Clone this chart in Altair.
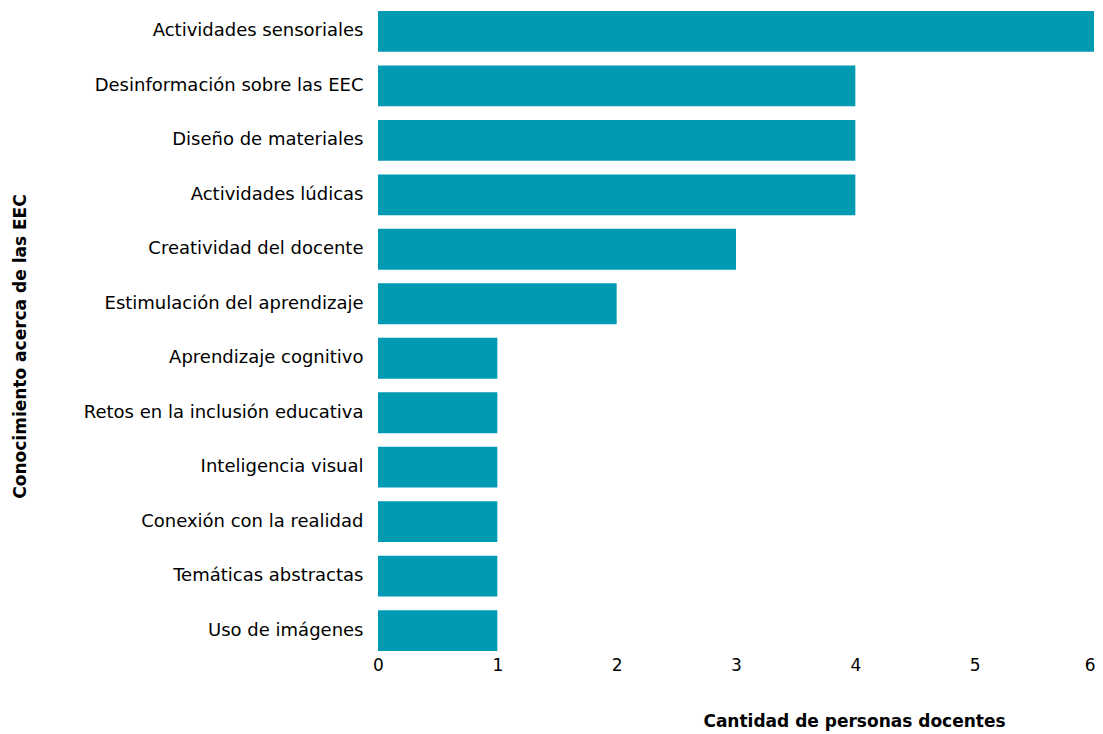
import altair as alt
import pandas as pd

categorias = [
    "Actividades sensoriales",
    "Desinformación sobre las EEC",
    "Diseño de materiales",
    "Actividades lúdicas",
    "Creatividad del docente",
    "Estimulación del aprendizaje",
    "Aprendizaje cognitivo",
    "Retos en la inclusión educativa",
    "Inteligencia visual",
    "Conexión con la realidad",
    "Temáticas abstractas",
    "Uso de imágenes",
]
valores = [6, 4, 4, 4, 3, 2, 1, 1, 1, 1, 1, 1]
ticks_x = [0, 1, 2, 3, 4, 5, 6]

df = pd.DataFrame({"categoria": categorias, "valor": valores})

FONT = "DejaVu Sans"

chart = (
    alt.Chart(df)
    .mark_bar(color="#009AB3")
    .encode(
        x=alt.X(
            "valor:Q",
            scale=alt.Scale(domain=[0, 6], nice=False),
            axis=alt.Axis(
                title="Cantidad de personas docentes",
                values=ticks_x,
                format="d",
                grid=False,
                domain=False,
                ticks=False,
                labelFlush=False,
                labelAlign=alt.condition("datum.value == 6", alt.value("right"), alt.value("center")),
                labelOffset=alt.condition("datum.value == 6", alt.value(1), alt.value(0)),
                labelFontSize=17,
                labelColor="#000000",
                labelFont=FONT,
                labelPadding=6,
                titleFont=FONT,
                titleFontSize=17,
                titleFontWeight="bold",
                titleColor="#000000",
                titleX=476,
                titleY=70,
                titleBaseline="middle",
            ),
        ),
        y=alt.Y(
            "categoria:N",
            sort=categorias,
            scale=alt.Scale(paddingInner=0.25, paddingOuter=0),
            axis=alt.Axis(
                title="Conocimiento acerca de las EEC",
                grid=False,
                domain=False,
                ticks=False,
                labelFontSize=18,
                labelColor="#000000",
                labelFont=FONT,
                labelPadding=15,
                labelLimit=400,
                titleFont=FONT,
                titleFontSize=17,
                titleFontWeight="bold",
                titleColor="#000000",
                titleAngle=270,
                titleX=-358,
                titleY=335,
                titleBaseline="middle",
                titleAlign="center",
            ),
        ),
    )
    .properties(
        width=716,
        height=640,
        autosize=alt.AutoSizeParams(type="none"),
        padding={"left": 370, "top": 3, "right": 1, "bottom": 80},
    )
    .configure_view(stroke=None)
)

chart.save("out.html", embed_options={"renderer": "svg", "actions": False})
